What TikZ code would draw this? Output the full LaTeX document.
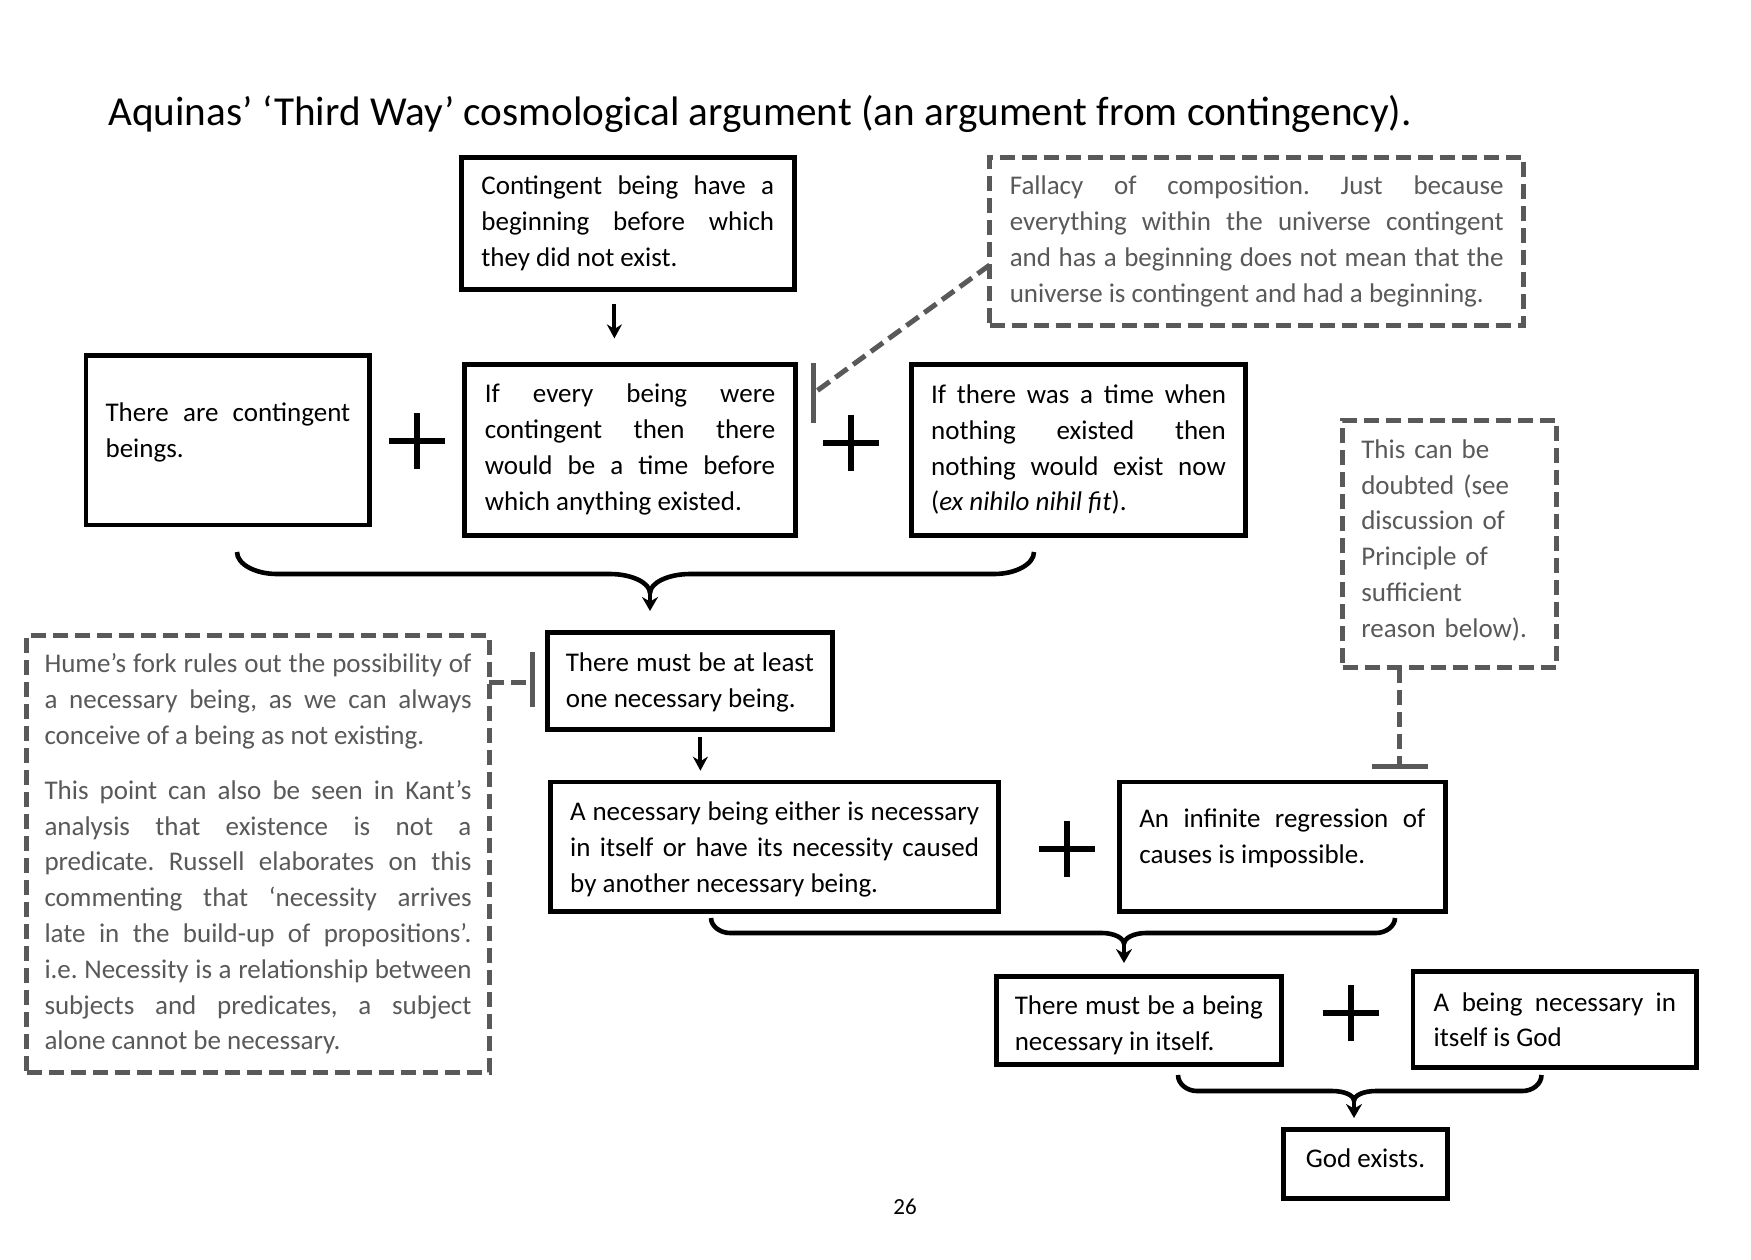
\documentclass[tikz,border=0pt]{standalone}
\usepackage{fontspec}
\setmainfont{Carlito}
\usetikzlibrary{arrows.meta}
\definecolor{dgray}{HTML}{595959}
\newcommand\fs{\fontsize{13.5pt}{17.9pt}\selectfont\frenchspacing}
\hyphenpenalty=10000
\exhyphenpenalty=10000
\tolerance=10000
\hbadness=10000
\begin{document}
\begin{tikzpicture}[x=0.5pt,y=-0.5pt,
  box/.style={draw, line width=2.4pt, inner sep=0pt, font=\fs, align=justify},
  note/.style={draw=dgray, line width=2.5pt, dash pattern=on 7.5pt off 3.5pt, inner sep=0pt, text=dgray, font=\fs, align=justify},
  txt/.style={inner sep=0pt, font=\fs, align=justify},
  arr/.style={line width=2pt, -{Stealth[length=7pt,width=7.5pt]}},
  bracearr/.style={line width=2.3pt, -{Stealth[length=7pt,width=8pt]}},
  bracel/.style={line width=2.3pt},
  conn/.style={dgray, line width=2.5pt, dash pattern=on 7.5pt off 3.5pt},
  bar/.style={dgray, line width=2.5pt},
  plusline/.style={line width=3pt}]
\fill[white] (0,0) rectangle (1751,1259);
\useasboundingbox (0,0) rectangle (1751,1259);

% title and page number
\node[anchor=base west, inner sep=0pt, font=\fontsize{20.6pt}{24pt}\selectfont] (title) at (108,125)
  {Aquinas’ ‘Third Way’ cosmological argument (an argument from contingency).};
\node[anchor=base, inner sep=0pt, font=\fontsize{11.5pt}{14pt}\selectfont] (pg) at (905,1214) {26};

% main boxes
\node[box, text width=146.4pt, minimum width=166.4pt, minimum height=65.9pt] (A) at (627.8,223.4)
  {Contingent being have a\linebreak beginning before which\linebreak they did not exist.};
\node[box, text width=145.2pt, minimum width=165.3pt, minimum height=85.5pt] (B) at (630,449.6)
  {If every being were\linebreak contingent then there\linebreak would be a time before\linebreak which anything existed.};
\node[box, minimum width=141.9pt, minimum height=84.9pt] (L) at (227.9,440.1) {};
\node[txt, text width=122.3pt] (Lt) at ([yshift=3.8pt]L.center)
  {There are contingent\linebreak beings.};
\node[box, text width=147.4pt, minimum width=167pt, minimum height=85.5pt] (C) at (1078.5,449.6)
  {If there was a time when\linebreak nothing existed then\linebreak nothing would exist now\linebreak (\textit{ex nihilo nihil fit}).};
\node[note, text width=246.9pt, minimum width=267pt, minimum height=83.75pt] (Fal) at (1256.7,241.3)
  {Fallacy of composition. Just because\linebreak everything within the universe contingent\linebreak and has a beginning does not mean that the\linebreak universe is contingent and had a beginning.};
\node[box, minimum width=142.5pt, minimum height=48.6pt] (D) at (689.8,680.8) {};
\node[txt, text width=124pt] (Dtx) at ([yshift=-1pt]D.center)
  {There must be at least\linebreak one necessary being.};
\node[note, text width=213.5pt, minimum width=231.2pt, minimum height=218.35pt] (Hume) at (258,854)
  {Hume’s fork rules out the possibility of\linebreak a necessary being, as we can always\linebreak conceive of a being as not existing.\par\vspace{9.5pt}
   This point can also be seen in Kant’s\linebreak analysis that existence is not a\linebreak predicate. Russell elaborates on this\linebreak commenting that ‘necessity arrives\linebreak late in the build-up of propositions’.\linebreak i.e. Necessity is a relationship between\linebreak subjects and predicates, a subject\linebreak alone cannot be necessary.};
\node[box, minimum width=224pt, minimum height=64.8pt] (E) at (774.6,846.7) {};
\node[txt, text width=204.4pt] (Et) at ([yshift=-1.5pt]E.center)
  {A necessary being either is necessary\linebreak in itself or have its necessity caused\linebreak by another necessary being.};
\node[box, minimum width=163.1pt, minimum height=64.8pt] (F) at (1282.3,846.7) {};
\node[txt, text width=143pt] (Ft) at ([yshift=4pt]F.center)
  {An infinite regression of\linebreak causes is impossible.};
\node[note, minimum width=106.7pt, minimum height=123.75pt] (Db) at (1449.3,543.8) {};
\node[txt, text=dgray, text width=88pt, align=left] (Dt) at ([yshift=1.8pt]Db.center)
  {This can be\\ doubted (see\\ discussion of\\ Principle of\\ sufficient\\ reason below).};
\node[box, minimum width=142.4pt, minimum height=44.1pt] (G) at (1138.8,1020.4) {};
\node[txt, text width=124pt] (Gt) at ([yshift=-2.6pt]G.center)
  {There must be a being\linebreak necessary in itself.};
\node[box, text width=121.2pt, minimum width=141.85pt, minimum height=48.05pt] (H) at (1554.9,1019.8)
  {A being necessary in\linebreak itself is God};
\node[box, minimum width=82.1pt, minimum height=34.6pt] (I) at (1365.5,1163.9) {};
\node[txt, align=center] (It) at ([yshift=2.6pt]I.center) {God exists.};

% plus signs
\foreach \n/\px/\py in {P1/416.6/441.2, P2/851.2/443.4, P3/1066.7/848.9, P4/1350.5/1013.1}{
  \coordinate (\n) at (\px,\py);
  \draw[plusline] ([xshift=-14pt]\n) -- ([xshift=14pt]\n);
  \draw[plusline] ([yshift=-14pt]\n) -- ([yshift=14pt]\n);
}

% straight arrows
\coordinate (ab1) at (614.4,303.8); \coordinate (ab2) at (614.4,338.4);
\draw[arr] (ab1) -- (ab2);
\coordinate (de1) at (700.4,737.2); \coordinate (de2) at (700.4,770.7);
\draw[arr] (de1) -- (de2);

% objection connectors
\coordinate (fc) at (989.7,265); \coordinate (fbar) at (814,393);
\draw[conn] (fc) -- (fbar);
\draw[bar] (813,363) -- (813,423);
\coordinate (hc) at (489.2,682); \coordinate (hbar) at (531,682);
\draw[conn] (hc) -- (hbar);
\draw[bar] (532,652) -- (532,707);
\coordinate (dc) at (1399,668); \coordinate (dbar) at (1399,765);
\draw[conn] (dc) -- (dbar);
\draw[bar] (1372,766) -- (1428,766);

% brace 1
\coordinate (b1l) at (237,552); \coordinate (b1r) at (1034,552);
\coordinate (b1c) at (650,593); \coordinate (b1t) at (650,611);
\draw[bracel] (b1l) .. controls (237,564) and (255,574) .. (277,574) -- (610,574)
  .. controls (632,574) and (650,583) .. (b1c);
\draw[bracel] (b1r) .. controls (1034,564) and (1016,574) .. (994,574) -- (690,574)
  .. controls (668,574) and (650,583) .. (b1c);
\draw[bracearr] ([yshift=1pt]b1c) -- (b1t);

% brace 2
\coordinate (b2l) at (711,918); \coordinate (b2r) at (1395,918);
\coordinate (b2c) at (1124,944); \coordinate (b2t) at (1124,963);
\draw[bracel] (b2l) .. controls (711,926) and (720,933) .. (730,933) -- (1102,933)
  .. controls (1114,933) and (1124,938) .. (b2c);
\draw[bracel] (b2r) .. controls (1395,926) and (1386,933) .. (1376,933) -- (1146,933)
  .. controls (1134,933) and (1124,938) .. (b2c);
\draw[bracearr] ([yshift=1pt]b2c) -- (b2t);

% brace 3
\coordinate (b3l) at (1178,1075); \coordinate (b3r) at (1541.5,1075);
\coordinate (b3c) at (1354,1101); \coordinate (b3t) at (1354,1118);
\draw[bracel] (b3l) .. controls (1178,1084) and (1187,1091) .. (1197,1091) -- (1332,1091)
  .. controls (1344,1091) and (1354,1095) .. (b3c);
\draw[bracel] (b3r) .. controls (1541.5,1084) and (1532.5,1091) .. (1522.5,1091) -- (1376,1091)
  .. controls (1364,1091) and (1354,1095) .. (b3c);
\draw[bracearr] ([yshift=1pt]b3c) -- (b3t);
\end{tikzpicture}
\end{document}
